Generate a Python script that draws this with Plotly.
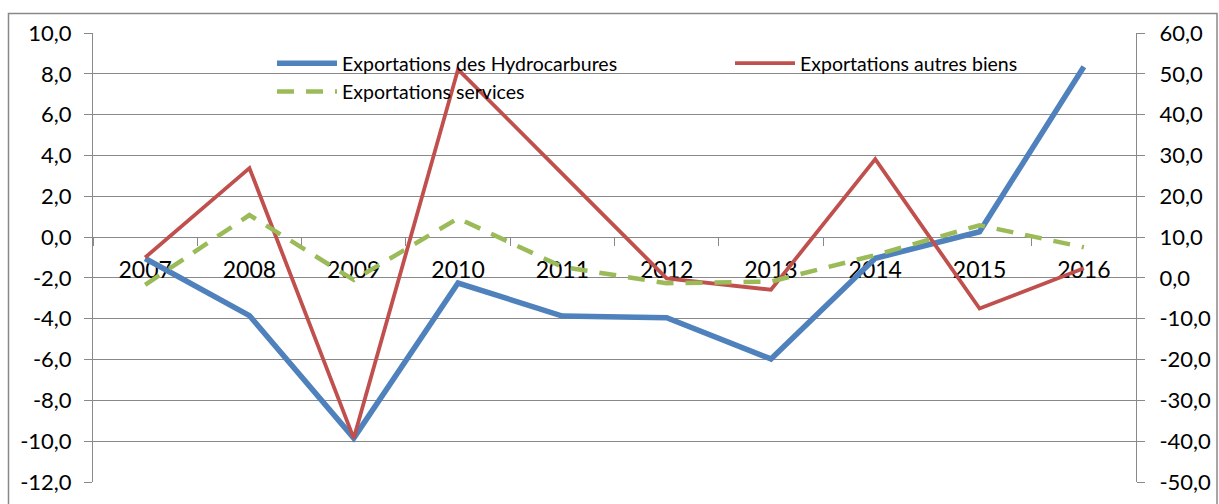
import plotly.graph_objects as go

years = ["2007", "2008", "2009", "2010", "2011", "2012", "2013", "2014", "2015", "2016"]
hydrocarbures = [-1.05, -3.85, -9.85, -2.25, -3.87, -3.95, -5.97, -1.04, 0.26, 8.35]
autres_biens = [5.0, 26.9, -39.3, 51.1, 25.5, -0.1, -2.9, 29.1, -7.5, 2.35]
services = [-1.7, 15.4, -0.5, 14.6, 2.7, -1.3, -0.9, 5.6, 12.9, 7.5]

left_ticks = list(range(-12, 11, 2))
left_labels = [f"{v:.1f}".replace(".", ",") for v in left_ticks]
right_ticks = list(range(-50, 61, 10))
right_labels = [f"{v:.1f}".replace(".", ",") for v in right_ticks]

FONT = "Lato"
GRID = "#898989"

W, H = 1219, 504
PL, PR, PT, PB = 93, 1136, 33, 482
PW, PH = PR - PL, PB - PT


def px(x):
    return (x - PL) / PW


def py(y):
    return (PB - y) / PH


fig = go.Figure()
fig.add_trace(go.Scatter(x=years, y=hydrocarbures, mode="lines",
                         name="Exportations des Hydrocarbures",
                         line=dict(color="#4F81BD", width=5.5), legend="legend"))
fig.add_trace(go.Scatter(x=years, y=autres_biens, mode="lines", yaxis="y2",
                         name="Exportations autres biens",
                         line=dict(color="#C0504D", width=3.8), legend="legend2"))
fig.add_trace(go.Scatter(x=years, y=services, mode="lines", yaxis="y2",
                         name="Exportations services",
                         line=dict(color="#9BBB59", width=4.5, dash="17px,12px"),
                         legend="legend"))

fig.update_layout(
    width=W, height=H,
    margin=dict(l=PL, r=W - PR, t=PT, b=H - PB, autoexpand=False),
    paper_bgcolor="white", plot_bgcolor="white",
    font=dict(family=FONT, color="black"),
    xaxis=dict(
        type="category", range=[-0.5, 9.5],
        anchor="free", position=12 / 22,
        showline=True, linecolor=GRID, linewidth=1,
        ticks="outside", tickson="boundaries", ticklen=8, tickcolor=GRID,
        ticklabelstandoff=12,
        showgrid=False, zeroline=False, automargin=False,
        tickfont=dict(size=23, family=FONT),
        layer="below traces",
    ),
    yaxis=dict(
        range=[-12, 10], tickvals=left_ticks, ticktext=left_labels,
        showgrid=True, gridcolor=GRID, gridwidth=1,
        showline=True, linecolor=GRID, linewidth=1,
        ticks="outside", ticklen=8, tickcolor=GRID,
        ticklabelstandoff=8, automargin=False,
        zeroline=False,
        tickfont=dict(size=22, family=FONT),
    ),
    yaxis2=dict(
        range=[-50, 60], tickvals=right_ticks, ticktext=right_labels,
        overlaying="y", side="right",
        showgrid=False, zeroline=False, automargin=False,
        showline=True, linecolor=GRID, linewidth=1,
        ticks="outside", ticklen=8, tickcolor=GRID,
        ticklabelstandoff=10,
        tickfont=dict(size=22, family=FONT),
    ),
    legend=dict(
        orientation="v", x=px(272), y=py(44),
        xanchor="left", yanchor="top",
        bgcolor="rgba(0,0,0,0)", itemwidth=60,
        font=dict(size=19.5, family=FONT), tracegroupgap=0,
    ),
    legend2=dict(
        orientation="v", x=px(730), y=py(44),
        xanchor="left", yanchor="top",
        bgcolor="rgba(0,0,0,0)", itemwidth=60,
        font=dict(size=19.5, family=FONT),
    ),
    showlegend=True,
)

fig.add_shape(type="rect", xref="paper", yref="paper",
              x0=px(8.5), x1=px(1217),
              y0=py(520), y1=py(13.5),
              line=dict(color=GRID, width=1.5), fillcolor="rgba(0,0,0,0)",
              layer="below")

fig.write_html(
    "out.html",
    config={"displayModeBar": False},
    post_script="document.body.style.margin='0';document.body.style.overflow='hidden';",
)
